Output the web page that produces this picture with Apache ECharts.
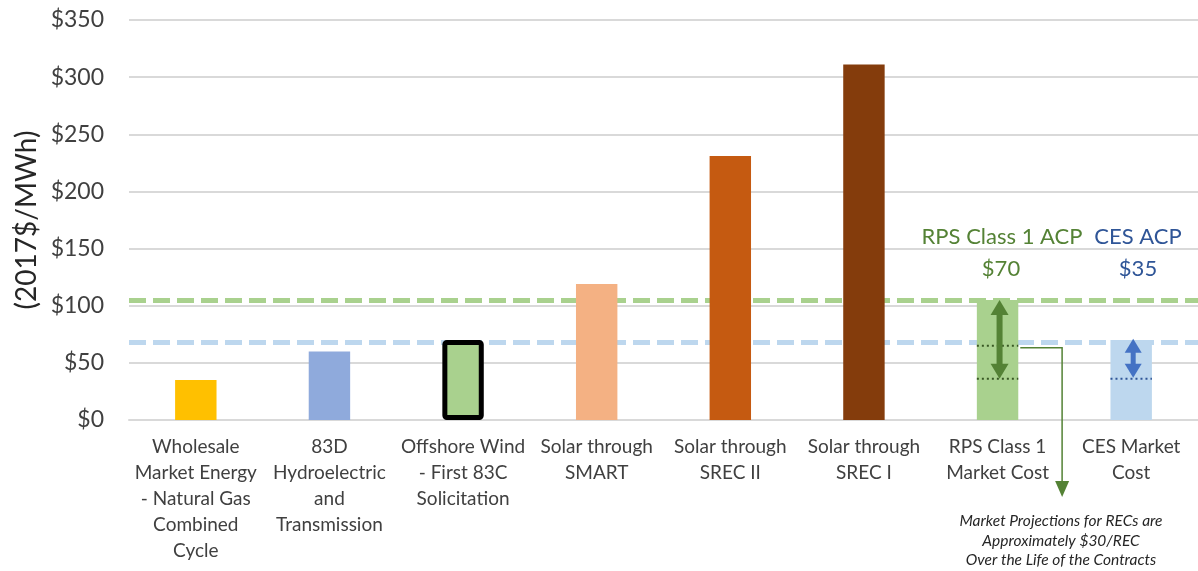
<!DOCTYPE html>
<html>
<head>
<meta charset="utf-8">
<script src="https://cdn.jsdelivr.net/npm/echarts@6/dist/echarts.min.js"></script>
<style>html,body{margin:0;padding:0;background:#fff}#c{width:1198px;height:571px}</style>
</head>
<body>
<div id="c"></div>
<script>
// ---- data ----
const categories = [
  'Wholesale\nMarket Energy\n- Natural Gas\nCombined\nCycle',
  '83D\nHydroelectric\nand\nTransmission',
  'Offshore Wind\n- First 83C\nSolicitation',
  'Solar through\nSMART',
  'Solar through\nSREC II',
  'Solar through\nSREC I',
  'RPS Class 1\nMarket Cost',
  'CES Market\nCost'
];
const barValues = [35, 60, 70, 119, 231, 311, 105, 70];
const yTicks = [0, 50, 100, 150, 200, 250, 300, 350];
const rpsAcpLine = 105;
const cesAcpLine = 68;
const rpsDotted = [36, 65];
const cesDotted = [36];
const rpsArrow = [36, 105];
const cesArrow = [37, 71];
const recConnector = 65;
const rpsIndex = 6, cesIndex = 7;

// ---- styles ----
const barColors = ['#FFC000', '#8FAADC', '#A9D18E', '#F4B183', '#C55A11', '#843C0C', '#A9D18E', '#BDD7EE'];
const FONT = 'Lato';
const BARW = 0.31;

const chart = echarts.init(document.getElementById('c'));

const barData = barValues.map((v, i) => {
  const item = { value: v, itemStyle: { color: barColors[i] } };
  if (i === 2) item.itemStyle = { color: barColors[i], borderColor: '#000', borderWidth: 5, borderRadius: 2 };
  return item;
});

const dottedData = rpsDotted.map(v => [rpsIndex, v, 0]).concat(cesDotted.map(v => [cesIndex, v, 1]));
const arrowData = [[rpsIndex, rpsArrow[0], rpsArrow[1], 0], [cesIndex, cesArrow[0], cesArrow[1], 1]];

chart.setOption({
  animation: false,
  grid: { left: 129, top: 20, width: 1074, height: 400, containLabel: false },
  xAxis: {
    type: 'category',
    data: categories,
    axisLine: { lineStyle: { color: '#D9D9D9', width: 2 } },
    axisTick: { show: false },
    axisLabel: { interval: 0, margin: 14, fontFamily: FONT, fontSize: 19, lineHeight: 26, color: '#404040' }
  },
  yAxis: {
    type: 'value', min: yTicks[0], max: yTicks[yTicks.length - 1], interval: 50,
    axisLine: { show: false }, axisTick: { show: false },
    splitLine: { lineStyle: { color: '#D9D9D9', width: 2 } },
    axisLabel: { formatter: v => '$' + v, fontFamily: FONT, fontSize: 23, color: '#404040', margin: 25 }
  },
  series: [
    {
      type: 'line', data: [], z: 1, silent: true,
      markLine: {
        symbol: 'none', silent: true, label: { show: false }, z: 1,
        data: [
          { yAxis: rpsAcpLine, lineStyle: { color: '#A9D18E', width: 5, type: [17, 7] } },
          { yAxis: cesAcpLine, lineStyle: { color: '#BDD7EE', width: 5, type: [17, 7] } }
        ]
      }
    },
    {
      type: 'bar', data: barData, barWidth: (BARW * 100) + '%', z: 3, silent: true
    },
    {
      type: 'custom', z: 5, silent: true, clip: false,
      data: dottedData,
      renderItem: function (params, api) {
        const p = api.coord([api.value(0), api.value(1)]);
        const bw = api.size([1, 0])[0] * BARW;
        const col = api.value(2) === 0 ? '#385723' : '#2F5597';
        return { type: 'line', shape: { x1: p[0] - bw / 2, y1: p[1], x2: p[0] + bw / 2, y2: p[1] },
          style: { stroke: col, lineWidth: 2, lineDash: [2, 3] } };
      }
    },
    {
      type: 'custom', z: 6, silent: true, clip: false,
      data: arrowData,
      renderItem: function (params, api) {
        const lo = api.coord([api.value(0), api.value(1)]);
        const hi = api.coord([api.value(0), api.value(2)]);
        const isRps = api.value(3) === 0;
        const col = isRps ? '#548235' : '#4472C4';
        const x = lo[0] + 2;
        const hw = isRps ? 9 : 8.5, hh = isRps ? 15 : 14, sw = isRps ? 6 : 5;
        const yt = hi[1], yb = lo[1];
        return { type: 'group', children: [
          { type: 'rect', shape: { x: x - sw / 2, y: yt + hh - 1, width: sw, height: Math.max(0, yb - yt - 2 * hh + 2) }, style: { fill: col } },
          { type: 'polygon', shape: { points: [[x, yt], [x - hw, yt + hh], [x + hw, yt + hh]] }, style: { fill: col } },
          { type: 'polygon', shape: { points: [[x, yb], [x - hw, yb - hh], [x + hw, yb - hh]] }, style: { fill: col } }
        ] };
      }
    },
    {
      type: 'custom', z: 6, silent: true, clip: false,
      data: [[rpsIndex, recConnector]],
      renderItem: function (params, api) {
        const p = api.coord([api.value(0), api.value(1)]);
        const base = api.coord([api.value(0), 0]);
        const band = api.size([1, 0])[0];
        const x0 = p[0] + band * BARW / 2 + 2;
        const x1 = p[0] + band * 0.483;
        const yEnd = base[1] + 77;
        const col = '#548235';
        return { type: 'group', children: [
          { type: 'polyline', shape: { points: [[x0, p[1] + 2], [x1, p[1] + 2], [x1, yEnd - 14]] }, style: { stroke: col, lineWidth: 1.5, fill: null } },
          { type: 'polygon', shape: { points: [[x1 - 7, yEnd - 16], [x1 + 7, yEnd - 16], [x1, yEnd]] }, style: { fill: col } }
        ] };
      }
    }
  ],
  graphic: [
    { type: 'text', x: 27, y: 220, rotation: Math.PI / 2,
      style: { text: '(2017$/MWh)', font: '28px ' + FONT, fill: '#262626', align: 'center', verticalAlign: 'middle' } },
    { type: 'text', x: 1002, y: 237, style: { text: 'RPS Class 1 ACP', font: '22px ' + FONT, fill: '#548235', align: 'center', verticalAlign: 'middle' } },
    { type: 'text', x: 1001, y: 269, style: { text: '$70', font: '22px ' + FONT, fill: '#548235', align: 'center', verticalAlign: 'middle' } },
    { type: 'text', x: 1138, y: 237, style: { text: 'CES ACP', font: '22px ' + FONT, fill: '#2F5597', align: 'center', verticalAlign: 'middle' } },
    { type: 'text', x: 1138, y: 269, style: { text: '$35', font: '22px ' + FONT, fill: '#2F5597', align: 'center', verticalAlign: 'middle' } },
    { type: 'text', x: 1061, y: 521, style: { text: 'Market Projections for RECs are', font: 'italic 15.5px ' + FONT, fill: '#262626', align: 'center', verticalAlign: 'middle' } },
    { type: 'text', x: 1061, y: 541, style: { text: 'Approximately $30/REC', font: 'italic 15.5px ' + FONT, fill: '#262626', align: 'center', verticalAlign: 'middle' } },
    { type: 'text', x: 1061, y: 560, style: { text: 'Over the Life of the Contracts', font: 'italic 15.5px ' + FONT, fill: '#262626', align: 'center', verticalAlign: 'middle' } }
  ]
});
</script>
</body>
</html>
